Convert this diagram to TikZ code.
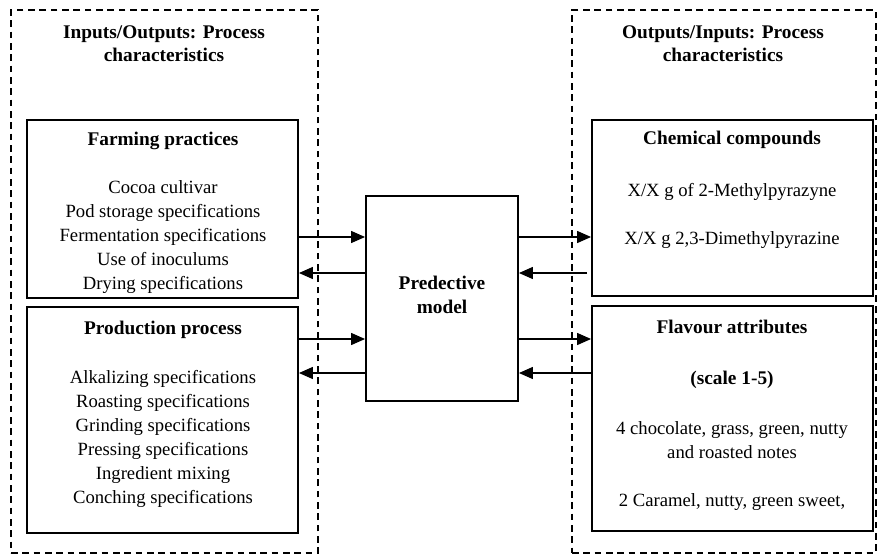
\documentclass[tikz,border=0pt]{standalone}
\usepackage{fontspec}
\setmainfont{Liberation Serif}
\usepackage{tikz}
\usetikzlibrary{arrows.meta,positioning,calc}
\tikzset{
  grp/.style  = {rectangle, draw=black, line width=1pt, dash pattern=on 5pt off 3.5pt,
                 inner sep=0pt},
  pbox/.style = {rectangle, draw=black, line width=1.4pt, inner sep=0pt},
  txt/.style  = {align=center, inner sep=0pt, font=\fontsize{14}{18}\selectfont},
  ttl/.style  = {align=center, inner sep=0pt, font=\fontsize{14.5}{17.5}\selectfont\bfseries},
  ed/.style   = {-{Triangle[length=10.5pt,width=9pt]}, draw=black, line width=1pt},
}

\begin{document}
\begin{tikzpicture}[x=0.75pt,y=-0.75pt]
  \useasboundingbox (0,0) rectangle (881,557);
  % dashed groups
  \node[grp,minimum width=307*0.75pt,minimum height=543*0.75pt] (gin) at (164.5,281.5) {};
  \node[grp,minimum width=304*0.75pt,minimum height=543*0.75pt] (gout) at (724,281.5) {};
  \node[ttl] (hin) at (164,44) {Inputs/Outputs: Process\\characteristics};
  \node[ttl] (hout) at (723,44) {Outputs/Inputs: Process\\characteristics};
  % boxes
  \node[pbox,minimum width=271*0.75pt,minimum height=178*0.75pt] (farm) at (162.5,209) {};
  \node[pbox,minimum width=271*0.75pt,minimum height=226*0.75pt] (prod) at (162.5,420) {};
  \node[pbox,minimum width=152*0.75pt,minimum height=205*0.75pt] (model) at (442,298.5) {};
  \node[pbox,minimum width=281*0.75pt,minimum height=176*0.75pt] (chem) at (732.5,208) {};
  \node[pbox,minimum width=281*0.75pt,minimum height=225*0.75pt] (flav) at (732.5,418.5) {};
  % texts
  \node[ttl] (tfarm) at (163,141) {Farming practices};
  \node[txt] (lfarm) at (163,237) {Cocoa cultivar\\Pod storage specifications\\Fermentation specifications\\Use of inoculums\\Drying specifications};
  \node[ttl] (tprod) at (163,330) {Production process};
  \node[txt] (lprod) at (163,439) {Alkalizing specifications\\Roasting specifications\\Grinding specifications\\Pressing specifications\\Ingredient mixing\\Conching specifications};
  \node[ttl] (tmodel) at (442,295) {Predective\\model};
  \node[ttl] (tchem) at (732,140) {Chemical compounds};
  \node[txt] (lchem1) at (732,192) {X/X g of 2-Methylpyrazyne};
  \node[txt] (lchem2) at (732,240) {X/X g 2,3-Dimethylpyrazine};
  \node[ttl] (tflav) at (732,327) {Flavour attributes};
  \node[ttl] (tscale) at (732,380) {(scale 1-5)};
  \node[txt] (lflav1) at (732,440) {4 chocolate, grass, green, nutty\\and roasted notes};
  \node[txt] (lflav2) at (732,502) {2 Caramel, nutty, green sweet,};
  % arrows
  \coordinate (r1) at (0,237);
  \coordinate (r2) at (0,273);
  \coordinate (r3) at (0,339);
  \coordinate (r4) at (0,373);
  \coordinate (e2) at (587,273);
  \draw[ed] (farm.east |- r1) -- (model.west |- r1);
  \draw[ed] (model.west |- r2) -- (farm.east |- r2);
  \draw[ed] (prod.east |- r3) -- (model.west |- r3);
  \draw[ed] (model.west |- r4) -- (prod.east |- r4);
  \draw[ed] (model.east |- r1) -- (chem.west |- r1);
  \draw[ed] (e2) -- (model.east |- r2);
  \draw[ed] (model.east |- r3) -- (flav.west |- r3);
  \draw[ed] (flav.west |- r4) -- (model.east |- r4);
\end{tikzpicture}
\end{document}
